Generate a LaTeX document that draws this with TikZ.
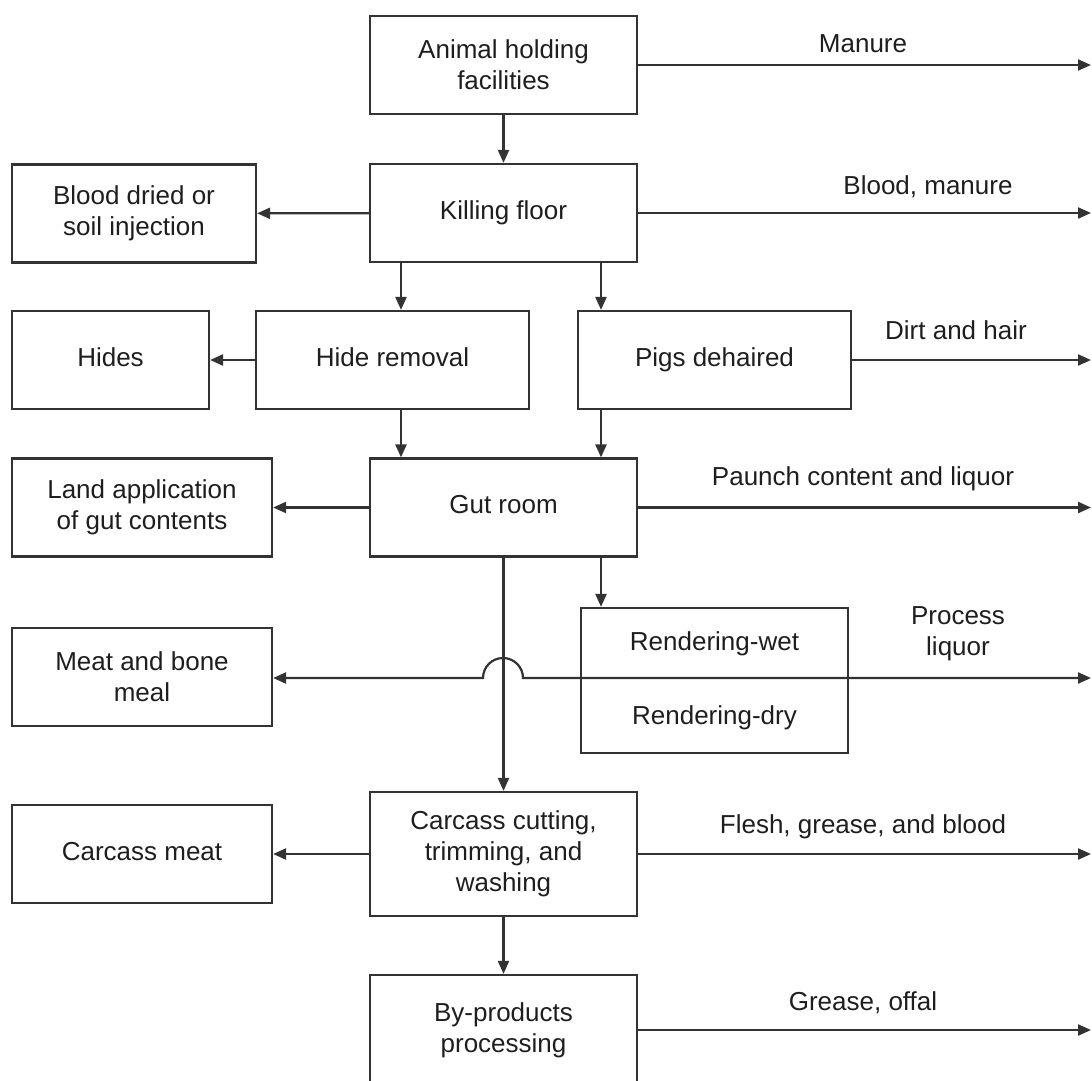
\documentclass[tikz,border=0pt]{standalone}
\usepackage{fontspec}
\setmainfont{Liberation Sans}
\usetikzlibrary{arrows.meta, calc, positioning}
\definecolor{linie}{HTML}{333333}
\definecolor{schrift}{HTML}{1E1E1E}

\begin{document}
\begin{tikzpicture}[
        x=0.5pt, y=-0.5pt,
        every node/.style={font=\fontsize{13}{15.5}\selectfont, text=schrift},
        box/.style={draw=linie, line width=1.1pt, align=center, inner sep=0pt,
                    minimum width=133.5pt, minimum height=49pt},
        flow/.style={draw=linie, line width=1.1pt, -{Triangle[length=6.5pt, width=5.5pt]}},
        label/.style={inner sep=0pt, align=center},
      ]
      \useasboundingbox (0,0) rectangle (1092,1081);
      \coordinate (rand) at (1091,0);

      % Hauptlinie
      \node[box] (animal) at (503.5,65) {Animal holding\\facilities};
      \node[box] (kill) at (503.5,213) {Killing floor\strut};
      \node[box, minimum width=136.5pt] (hide) at (392.5,360) {Hide removal\strut};
      \node[box, minimum width=136.5pt] (pigs) at (714.5,360) {Pigs dehaired\strut};
      \node[box] (gut) at (503.5,507.5) {Gut room\strut};
      \node[box, minimum height=72.5pt] (rend) at (714.5,680.5)
        {Rendering-wet\\[21.5pt]Rendering-dry};
      \node[box, minimum height=62pt] (cut) at (503.5,854)
        {Carcass cutting,\\trimming, and\\washing};
      \node[box, minimum height=55pt] (byp) at (503.5,1030) {By-products\\processing};

      % Produkte links
      \node[box, minimum width=122pt] (blood) at (134,213.5) {Blood dried or\\soil injection};
      \node[box, minimum width=98.5pt] (hides) at (110.5,360) {Hides\strut};
      \node[box, minimum width=130pt] (land) at (142,507.5) {Land application\\of gut contents};
      \node[box, minimum width=130pt] (meat) at (142,677) {Meat and bone\\meal};
      \node[box, minimum width=130pt] (cmeat) at (142,854) {Carcass meat\strut};

      % Abwasser rechts
      \node[label] (lmanure) at (863,44) {Manure};
      \node[label] (lblood) at (928,187) {Blood, manure};
      \node[label] (ldirt) at (956,330) {Dirt and hair};
      \node[label] (lpaunch) at (863,479) {Paunch content and liquor};
      \node[label] (lproc) at (958,634) {Process\\liquor};
      \node[label] (lflesh) at (863,827) {Flesh, grease, and blood};
      \node[label] (lgrease) at (863,1003) {Grease, offal};

      % Pfeile nach unten
      \draw[flow] (animal) -- (kill);
      \draw[flow] (kill.south -| 401,0) -- (hide.north -| 401,0);
      \draw[flow] (kill.south -| 601,0) -- (pigs.north -| 601,0);
      \draw[flow] (hide.south -| 401,0) -- (gut.north -| 401,0);
      \draw[flow] (pigs.south -| 601,0) -- (gut.north -| 601,0);
      \draw[flow] (gut.south -| 601,0) -- (rend.north -| 601,0);
      \draw[flow] (gut.south) -- (cut.north);
      \draw[flow] (cut) -- (byp);

      % Pfeile nach links
      \draw[flow] (kill) -- (blood);
      \draw[flow] (hide) -- (hides);
      \draw[flow] (gut) -- (land);
      \draw[flow] (cut) -- (cmeat);

      % Pfeile nach rechts
      \foreach \quelle in {animal, kill, pigs, gut, cut, byp} {
        \draw[flow] (\quelle.east) -- (\quelle.east -| rand);
      }

      % Linie durch Rendering mit Sprung
      \draw[flow, {Triangle[length=6.5pt, width=5.5pt]}-{Triangle[length=6.5pt, width=5.5pt]}]
        (meat.east |- 0,678) -- (483,678) arc[start angle=180, end angle=0, radius=10pt]
        -- (rand |- 0,678);
    \end{tikzpicture}
\end{document}
